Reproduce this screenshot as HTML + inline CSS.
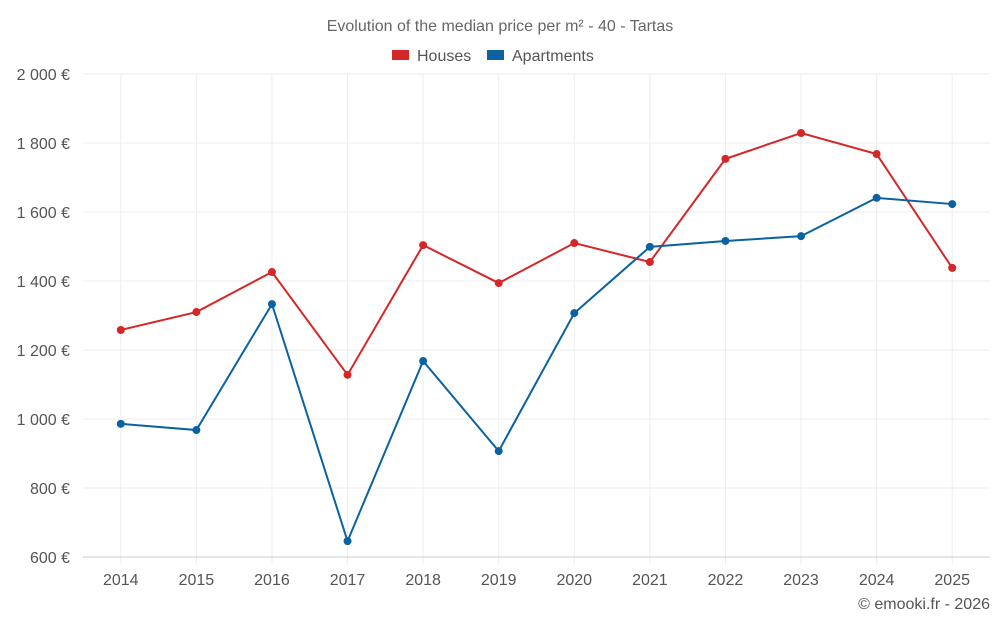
<!DOCTYPE html>
<html><head><meta charset="utf-8"><style>
body{margin:0;background:#fff;font-family:"Liberation Sans",Roboto,sans-serif;}
svg text{font-family:"Liberation Sans",sans-serif;fill:#555;}
</style></head><body>
<svg id="chart" width="1000" height="625" xmlns="http://www.w3.org/2000/svg">
<text x="500" y="31" text-anchor="middle" font-size="16" style="fill:#666">Evolution of the median price per m² - 40 - Tartas</text>
<g>
<g><rect x="392" y="50" width="17" height="10" fill="#d62728"/><text x="417" y="61" font-size="16">Houses</text></g>
<g><rect x="487" y="50" width="17" height="10" fill="#0a62a0"/><text x="512" y="61" font-size="16">Apartments</text></g>
</g>
<g id="grid"></g><g id="axes"></g><g id="series"></g>
<text x="990" y="609" text-anchor="end" font-size="16">© emooki.fr - 2026</text>
</svg>
<script>
const years=[2014,2015,2016,2017,2018,2019,2020,2021,2022,2023,2024,2025];
const houses=[1258,1310,1426,1128,1504,1394,1510,1455,1754,1829,1768,1438];
const apartments=[986,968,1333,646,1168,907,1307,1499,1516,1530,1641,1623];
const yTicks=[600,800,1000,1200,1400,1600,1800,2000];
const yTickLabels=["600 €","800 €","1 000 €","1 200 €","1 400 €","1 600 €","1 800 €","2 000 €"];
const L=83,R=990,T=74,B=557,yMin=600,yMax=2000;
const step=(R-L)/years.length;
const x=i=>L+step*(i+0.5);
const y=v=>B-(v-yMin)/(yMax-yMin)*(B-T);
const NS="http://www.w3.org/2000/svg";
function mk(t,a,p){const e=document.createElementNS(NS,t);for(const k in a)e.setAttribute(k,a[k]);p.appendChild(e);return e;}
const grid=document.getElementById('grid'),axes=document.getElementById('axes'),ser=document.getElementById('series');
years.forEach((yr,i)=>{
 const l=mk('line',{x1:x(i),x2:x(i),y1:T,y2:B+8,stroke:'#eee'},grid);
 
 
});
yTicks.forEach((v,i)=>{
 const l=mk('line',{x1:L,x2:R,y1:y(v),y2:y(v),stroke:i==0?'#ccc':'#eee'},grid);
 
 
 const t=mk('text',{x:70,y:y(v)+6,'text-anchor':'end','font-size':16},axes);t.textContent=yTickLabels[i];
 
 
});
years.forEach((yr,i)=>{
 const t=mk('text',{x:x(i),y:585,'text-anchor':'middle','font-size':16},axes);t.textContent=yr;
 
 
});
function draw(data,color,name){
 const p=mk('polyline',{points:data.map((v,i)=>x(i)+','+y(v)).join(' '),fill:'none',stroke:color,'stroke-width':2},ser);
 
 
 data.forEach((v,i)=>{
  const c=mk('circle',{cx:x(i),cy:y(v),r:4,fill:color},ser);
  
  
 });
}
draw(houses,'#d62728','houses');
draw(apartments,'#0a62a0','apartments');
</script>
</body></html>
